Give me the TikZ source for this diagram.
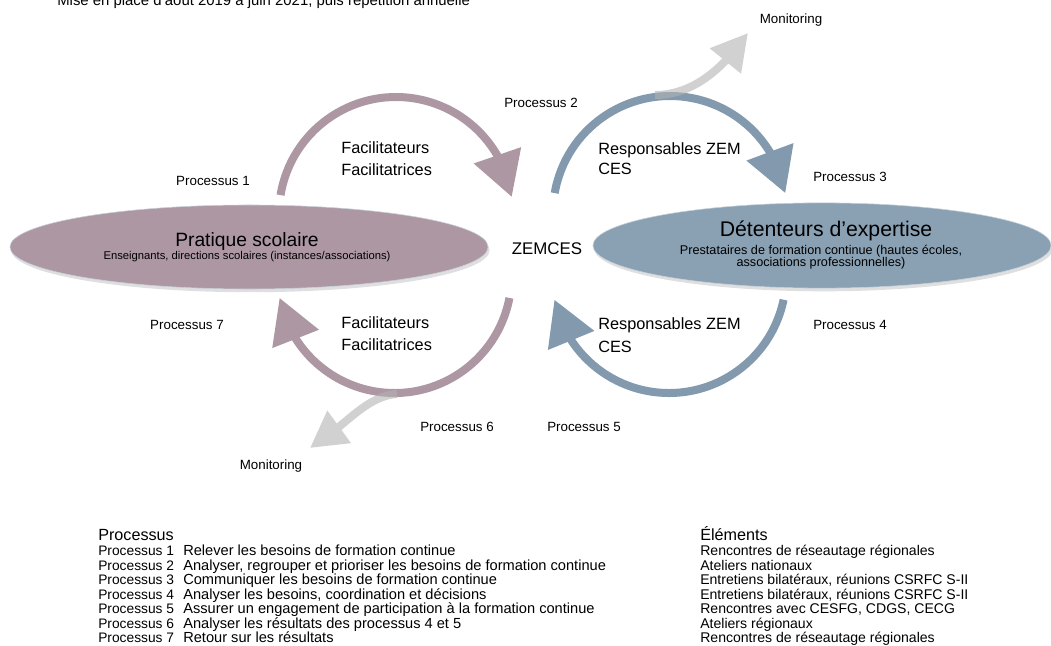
\documentclass[tikz,border=0pt]{standalone}
\usepackage{fontspec}
\setmainfont{Liberation Sans}
\usetikzlibrary{arrows.meta,bending,shadows,shapes.geometric}

\definecolor{mauve}{HTML}{AD97A3}
\definecolor{steel}{HTML}{8299AE}
\definecolor{steellight}{HTML}{8AA1B4}

\tikzset{
    stage/.style={ellipse, inner sep=0pt, draw=steel!45, line width=0.4pt,
        drop shadow={shadow xshift=0.4mm, shadow yshift=-0.8mm, opacity=0.25}},
    cyc/.style={line width=0.2cm, -{Triangle[width=1.2cm, length=1.1cm, flex]}},
    mon/.style={line width=0.2cm, black!30, -{Triangle[width=0.95cm, length=0.9cm, flex]}},
    lbl/.style={font=\fontsize{9.5}{11}\selectfont, inner sep=0pt},
    who/.style={font=\fontsize{11.6}{14}\selectfont, inner sep=0pt, anchor=base west},
    big/.style={font=\fontsize{#1}{#1}\selectfont, inner sep=0pt, anchor=base},
    tab/.style={font=\fontsize{10}{12}\selectfont, inner sep=0pt, anchor=base west}
}

\begin{document}
\begin{tikzpicture}[x=0.025cm, y=-0.025cm]
    \useasboundingbox (0,0) rectangle (1051,645);
    \def\r{117};

    \node[tab, font=\fontsize{10.6}{12}\selectfont] (title) at (57,5) {Mise en place d'août 2019 à juin 2021, puis répétition annuelle};

% the two poles

    \node[stage, fill=mauve, minimum width=11.95cm, minimum height=2.1cm] (prat) at (249,247) {};
    \node[stage, fill=steellight, minimum width=11.45cm, minimum height=2.13cm] (expert) at (822,245.5) {};

    \node[big=13.7] (prattitle) at (247,246) {Pratique scolaire};
    \node[big=8] (pratsub) at (247,259) {Enseignants, directions scolaires (instances/associations)};
    \node[big=15.1] (experttitle) at (826,236) {Détenteurs d'expertise};
    \node[big=9] (expertsubA) at (821,254) {Prestataires de formation continue (hautes écoles,};
    \node[big=9] (expertsubB) at (821,266) {associations professionnelles)};

    \node[font=\fontsize{12}{14}\selectfont, inner sep=0pt] (zem) at (547,249) {ZEMCES};

% arcs above

    \coordinate (cTL) at (396,214);
    \coordinate (cTR) at (670,213);
    \draw[cyc, mauve] (cTL) ++(189.3:\r) arc[start angle=189.3, end angle=351.6, radius=\r];
    \draw[cyc, steel] (cTR) ++(189.8:\r) arc[start angle=189.8, end angle=350.2, radius=\r];

% arcs below

    \coordinate (cBL) at (394.5,276);
    \coordinate (cBR) at (669,276);
    \draw[cyc, mauve] (cBL) ++(10.8:\r) arc[start angle=10.8, end angle=169.2, radius=\r];
    \draw[cyc, steel] (cBR) ++(11.7:\r) arc[start angle=11.7, end angle=168.3, radius=\r];

% monitoring

    \node[lbl] (monA) at (791,20) {Monitoring};
    \node[lbl] (monB) at (271,466) {Monitoring};
    \coordinate (monAfoot) at (655,95);
    \coordinate (monAtip) at (748,33);
    \coordinate (monBfoot) at (397,394);
    \coordinate (monBtip) at (310,448);
    \begin{scope}[transparency group, opacity=0.6]
        \draw[mon] (monAfoot) .. controls (695,95) and (725,66) .. (monAtip);
        \draw[mon] (monBfoot) .. controls (365,396) and (344,428) .. (monBtip);
    \end{scope}

% process labels

    \node[lbl] (p1) at (213,181) {Processus 1};
    \node[lbl] (p2) at (541,103) {Processus 2};
    \node[lbl] (p3) at (850,177) {Processus 3};
    \node[lbl] (p4) at (850,325) {Processus 4};
    \node[lbl] (p5) at (584,427) {Processus 5};
    \node[lbl] (p6) at (457,427) {Processus 6};
    \node[lbl] (p7) at (187,325) {Processus 7};

    \node[who] (facTa) at (341,153) {Facilitateurs};
    \node[who] (facTb) at (341,175) {Facilitatrices};
    \node[who] (resTa) at (598,154) {Responsables ZEM};
    \node[who] (resTb) at (598,174) {CES};
    \node[who] (facBa) at (341,328) {Facilitateurs};
    \node[who] (facBb) at (341,350) {Facilitatrices};
    \node[who] (resBa) at (598,329) {Responsables ZEM};
    \node[who] (resBb) at (598,352) {CES};

% table

    \node[tab, font=\fontsize{11.5}{14}\selectfont] (prochead) at (98,540) {Processus};
    \node[tab, font=\fontsize{11.5}{14}\selectfont] (elemhead) at (700,540) {Éléments};
    \foreach \n/\desc/\elem in {
        1/{Relever les besoins de formation continue}/{Rencontres de réseautage régionales},
        2/{Analyser, regrouper et prioriser les besoins de formation continue}/{Ateliers nationaux},
        3/{Communiquer les besoins de formation continue}/{Entretiens bilatéraux, réunions CSRFC S-II},
        4/{Analyser les besoins, coordination et décisions}/{Entretiens bilatéraux, réunions CSRFC S-II},
        5/{Assurer un engagement de participation à la formation continue}/{Rencontres avec CESFG, CDGS, CECG},
        6/{Analyser les résultats des processus 4 et 5}/{Ateliers régionaux},
        7/{Retour sur les résultats}/{Rencontres de réseautage régionales}}
    {
        \node[tab, font=\fontsize{9.8}{12}\selectfont] (proc\n) at (98, 541 + 14.5*\n) {Processus \n};
        \node[tab, font=\fontsize{10.4}{12}\selectfont] (desc\n) at (183, 541 + 14.5*\n) {\desc};
        \node[tab] (elem\n) at (700, 541 + 14.5*\n) {\elem};
    }

\end{tikzpicture}
\end{document}
